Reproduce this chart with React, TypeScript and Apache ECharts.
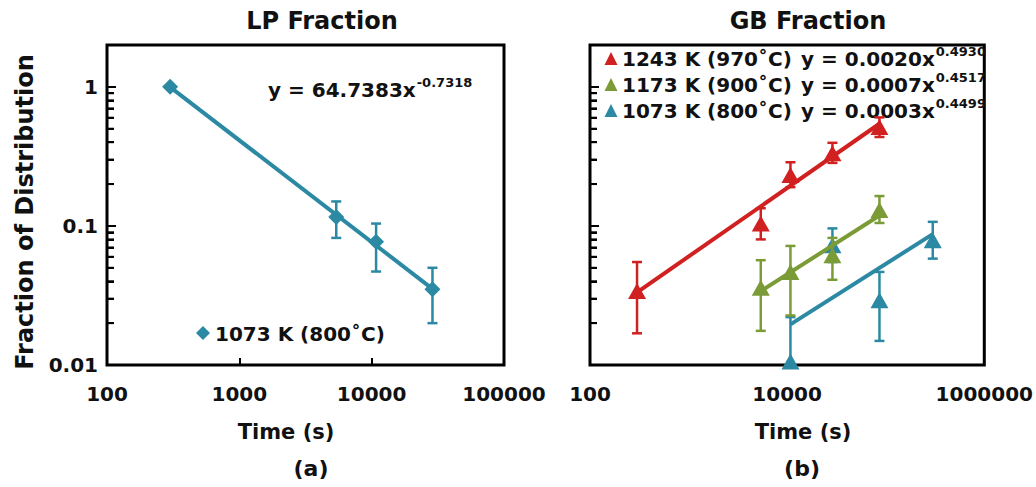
import React, { useEffect, useRef } from 'react';
import * as echarts from 'echarts';

const FONT = '"DejaVu Sans", "Liberation Sans", Arial, sans-serif';
const INK = '#111111';
const TEAL = '#2b89a3';
const RED = '#d0201f';
const GREEN = '#7b9b36';

// ---- (a) LP fraction, 1073 K (800˚C) ----
const lpTime = [300, 5400, 10800, 28800];
const lpFrac = [1.0, 0.116, 0.077, 0.035];
const lpErrHigh = [null, 0.15, 0.104, 0.05];
const lpErrLow = [null, 0.082, 0.047, 0.02];
const lpFit = { coef: 64.7383, exp: -0.7318, coefText: 'y = 64.7383x', expText: '-0.7318' };

// ---- (b) GB fraction ----
const gbRedTime = [300, 5400, 10800, 28800, 86400];
const gbRedFrac = [0.034, 0.104, 0.232, 0.333, 0.515];
const gbRedHigh = [0.055, 0.134, 0.287, 0.396, 0.603];
const gbRedLow = [0.0169, 0.08, 0.19, 0.284, 0.436];

const gbGreenTime = [5400, 10800, 28800, 86400];
const gbGreenFrac = [0.036, 0.0467, 0.0615, 0.13];
const gbGreenHigh = [0.0567, 0.0718, 0.082, 0.164];
const gbGreenLow = [0.0176, 0.0227, 0.041, 0.105];

const gbBlueTime = [10800, 28800, 86400, 300000];
const gbBlueFrac = [0.0106, 0.0726, 0.0292, 0.0789];
const gbBlueHigh = [0.0221, 0.096, 0.0467, 0.107];
const gbBlueLow = [0.0101, 0.055, 0.0149, 0.0582];

const gbLegend = ['1243 K (970˚C)', '1173 K (900˚C)', '1073 K (800˚C)'];
const gbFitCoef = [0.002, 0.0007, 0.0003];
const gbFitExp = [0.493, 0.4517, 0.4499];
const gbFitText = ['y = 0.0020x', 'y = 0.0007x', 'y = 0.0003x'];
const gbFitExpText = ['0.4930', '0.4517', '0.4499'];

const lpXTicks = [100, 100000];
const gbXTicks = [100, 1000000];
const yRange = [0.01, 2];
const minorTickVals = [0.02, 0.03, 0.04, 0.05, 0.06, 0.07, 0.08, 0.09, 0.2, 0.3, 0.4, 0.5, 0.6, 0.7, 0.8, 0.9];

function measure(s: string, size: number): number {
  const c = document.createElement('canvas').getContext('2d');
  if (!c) return s.length * size * 0.65;
  c.font = `bold ${size}px "DejaVu Sans"`;
  return c.measureText(s).width;
}

function isPow10(v: number) {
  const l = Math.log10(v);
  return Math.abs(l - Math.round(l)) < 1e-6;
}
function fmt(v: number) {
  return String(Number(v.toPrecision(6)));
}

function fitLine(time: number[], coef: number, exp: number) {
  const x0 = time[0];
  const x1 = time[time.length - 1];
  return [[x0, coef * Math.pow(x0, exp)], [x1, coef * Math.pow(x1, exp)]];
}

function errData(time: number[], low: (number | null)[], high: (number | null)[]) {
  const out: number[][] = [];
  time.forEach((t, i) => {
    if (low[i] != null && high[i] != null) out.push([t, low[i] as number, high[i] as number]);
  });
  return out;
}

function errSeries(idx: number, time: number[], low: any[], high: any[], color: string, z: number) {
  return {
    type: 'custom',
    xAxisIndex: idx,
    yAxisIndex: idx,
    z,
    silent: true,
    data: errData(time, low, high),
    encode: { x: 0, y: [1, 2] },
    renderItem: (params: any, api: any) => {
      const x = api.value(0);
      const hi = api.coord([x, api.value(2)]);
      const lo = api.coord([x, api.value(1)]);
      const w = 5;
      const st = { stroke: color, lineWidth: 2.5 };
      return {
        type: 'group',
        children: [
          { type: 'line', shape: { x1: hi[0], y1: hi[1], x2: lo[0], y2: lo[1] }, style: st },
          { type: 'line', shape: { x1: hi[0] - w, y1: hi[1], x2: hi[0] + w, y2: hi[1] }, style: st },
          { type: 'line', shape: { x1: lo[0] - w, y1: lo[1], x2: lo[0] + w, y2: lo[1] }, style: st },
        ],
      };
    },
  };
}

// minor ticks on the log y axis (2..9 of each decade), drawn inside the frame
function tickSeries(idx: number, xRef: number) {
  return {
    type: 'custom',
    xAxisIndex: idx,
    yAxisIndex: idx,
    z: 6,
    silent: true,
    data: minorTickVals.map((v) => [xRef, v, v]),
    encode: { x: 0, y: [1, 2] },
    renderItem: (params: any, api: any) => {
      const p = api.coord([api.value(0), api.value(1)]);
      const x0 = params.coordSys.x;
      return {
        type: 'group',
        children: [
          { type: 'line', shape: { x1: x0 + 7, y1: p[1] - 3, x2: x0 + 7, y2: p[1] + 3 }, style: { stroke: 'rgba(255,255,255,0)', lineWidth: 1 } },
          { type: 'line', shape: { x1: x0, y1: p[1], x2: x0 + 7, y2: p[1] }, style: { stroke: '#000', lineWidth: 2 } },
        ],
      };
    },
  };
}

function lineSeries(idx: number, data: number[][], color: string, z: number) {
  return {
    type: 'line',
    xAxisIndex: idx,
    yAxisIndex: idx,
    z,
    silent: true,
    symbol: 'none',
    data,
    lineStyle: { color, width: 4 },
  };
}

function scatterSeries(idx: number, name: string, time: number[], frac: number[], color: string, symbol: string, size: any, z: number) {
  return {
    type: 'scatter',
    name,
    xAxisIndex: idx,
    yAxisIndex: idx,
    z,
    symbol,
    symbolSize: size,
    data: time.map((t, i) => [t, frac[i]]),
    itemStyle: { color, opacity: 1 },
  };
}

const txt = (x: number, y: number, text: string, size: number, align = 'center', extra: any = {}) => ({
  type: 'text',
  x,
  y,
  silent: true,
  ...extra,
  style: {
    text,
    fill: INK,
    fontSize: size,
    fontWeight: 'bold',
    fontFamily: FONT,
    align,
    verticalAlign: 'middle',
  },
});

export default function App() {
  const ref = useRef<HTMLDivElement>(null);

  useEffect(() => {
    if (!ref.current) return;
    const chart = echarts.init(ref.current, undefined, { renderer: 'svg' });

    const axisLabelCommon = {
      color: INK,
      fontSize: 20,
      fontWeight: 'bold',
      fontFamily: FONT,
    };

    const xAxisBase = (idx: number, ticks: number[], skipOdd: boolean, showTick: boolean) => ({
      type: 'log',
      gridIndex: idx,
      logBase: 10,
      min: ticks[0],
      max: ticks[1],
      axisLine: { show: false },
      splitLine: { show: false },
      axisTick: { show: showTick, inside: true, length: 7, lineStyle: { color: '#000', width: 2 } },
      axisLabel: {
        ...axisLabelCommon,
        margin: 19,
        showMinLabel: true,
        showMaxLabel: true,
        formatter: (v: number) => {
          if (!isPow10(v)) return '';
          if (skipOdd && Math.round(Math.log10(v)) % 2 === 1) return '';
          return fmt(v);
        },
      },
    });

    const yAxisBase = (idx: number, showLabel: boolean) => ({
      type: 'log',
      gridIndex: idx,
      logBase: 10,
      min: yRange[0],
      max: yRange[1],
      axisLine: { show: false },
      splitLine: { show: false },
      axisTick: { show: true, inside: true, length: 9, lineStyle: { color: '#000', width: 2 } },
      axisLabel: {
        ...axisLabelCommon,
        show: showLabel,
        margin: 9,
        formatter: (v: number) => (isPow10(v) ? fmt(v) : ''),
      },
    });

    // label-less log axis per panel carrying the minor ticks
    const yMinorAxis = (idx: number) => ({
      type: 'log',
      gridIndex: idx,
      logBase: 10,
      position: 'left',
      offset: 0,
      min: yRange[0],
      max: yRange[1],
      axisLine: { show: false },
      splitLine: { show: false },
      axisLabel: { show: false },
      axisTick: {
        show: true,
        inside: true,
        length: 7,
        customValues: minorTickVals,
        lineStyle: { color: '#000', width: 2 },
      },
    });

    const lpEqW = measure(lpFit.coefText, 20);
    const gbEqW = gbFitText.map((s) => measure(s, 20));

    const rowY = [59, 85, 111];
    const rowColors = [RED, GREEN, TEAL];

    const graphics: any[] = [
      txt(322, 21, 'LP Fraction', 24),
      txt(808, 21, 'GB Fraction', 24),
      txt(25, 212, 'Fraction of Distribution', 24, 'center', { rotation: Math.PI / 2 }),
      txt(286, 432, 'Time (s)', 21),
      txt(803, 432, 'Time (s)', 21),
      txt(311, 468, '(a)', 22),
      txt(802, 468, '(b)', 22),
      {
        type: 'polygon',
        silent: true,
        shape: { points: [[203, 326], [210, 333], [203, 340], [196, 333]] },
        style: { fill: TEAL },
      },
      txt(215, 334, '1073 K (800˚C)', 20, 'left'),
      txt(268, 90, lpFit.coefText, 20, 'left'),
      txt(268 + lpEqW + 1, 82, lpFit.expText, 13, 'left'),
    ];

    gbLegend.forEach((name, i) => {
      const y = rowY[i];
      graphics.push({
        type: 'polygon',
        silent: true,
        shape: { points: [[611, y - 7], [617.5, y + 6], [604.5, y + 6]] },
        style: { fill: rowColors[i] },
      });
      graphics.push(txt(622, y, name, 20, 'left'));
      graphics.push(txt(801, y, gbFitText[i], 20, 'left'));
      graphics.push(txt(801 + gbEqW[i] + 1, y - 8, gbFitExpText[i], 13, 'left'));
    });
    // the equation exponents are cut at the plot frame in the figure
    graphics.push({
      type: 'rect',
      silent: true,
      shape: { x: 987, y: 35, width: 49, height: 95 },
      style: { fill: '#ffffff' },
    });

    const option: any = {
      animation: false,
      backgroundColor: '#ffffff',
      grid: [
        { left: 107, top: 45, width: 397, height: 320, show: true, borderColor: '#000', borderWidth: 3, backgroundColor: 'transparent' },
        { left: 590, top: 45, width: 395, height: 320, show: true, borderColor: '#000', borderWidth: 3, backgroundColor: 'transparent' },
      ],
      xAxis: [xAxisBase(0, lpXTicks, false, true), xAxisBase(1, gbXTicks, true, false)],
      yAxis: [yAxisBase(0, true), yAxisBase(1, false), yMinorAxis(0), yMinorAxis(1)],
      graphic: graphics,
      series: [
        tickSeries(0, 1000),
        tickSeries(1, 1000),
        errSeries(0, lpTime, lpErrLow, lpErrHigh, TEAL, 2),
        lineSeries(0, fitLine(lpTime, lpFit.coef, lpFit.exp), TEAL, 3),
        scatterSeries(0, '1073 K (800˚C)', lpTime, lpFrac, TEAL, 'diamond', 16, 4),
        errSeries(1, gbBlueTime, gbBlueLow, gbBlueHigh, TEAL, 2),
        scatterSeries(1, gbLegend[2], gbBlueTime, gbBlueFrac, TEAL, 'triangle', [18, 16], 2),
        lineSeries(1, fitLine(gbBlueTime, gbFitCoef[2], gbFitExp[2]), TEAL, 2),
        errSeries(1, gbGreenTime, gbGreenLow, gbGreenHigh, GREEN, 3),
        scatterSeries(1, gbLegend[1], gbGreenTime, gbGreenFrac, GREEN, 'triangle', [18, 16], 3),
        lineSeries(1, fitLine(gbGreenTime, gbFitCoef[1], gbFitExp[1]), GREEN, 3),
        errSeries(1, gbRedTime, gbRedLow, gbRedHigh, RED, 4),
        scatterSeries(1, gbLegend[0], gbRedTime, gbRedFrac, RED, 'triangle', [18, 16], 4),
        lineSeries(1, fitLine(gbRedTime, gbFitCoef[0], gbFitExp[0]), RED, 4),
      ],
    };

    chart.setOption(option);
    return () => {
      chart.dispose();
    };
  }, []);

  return (
    <div
      ref={ref}
      style={{ position: 'fixed', left: 0, top: 0, width: 1036, height: 487, background: '#fff' }}
    />
  );
}
